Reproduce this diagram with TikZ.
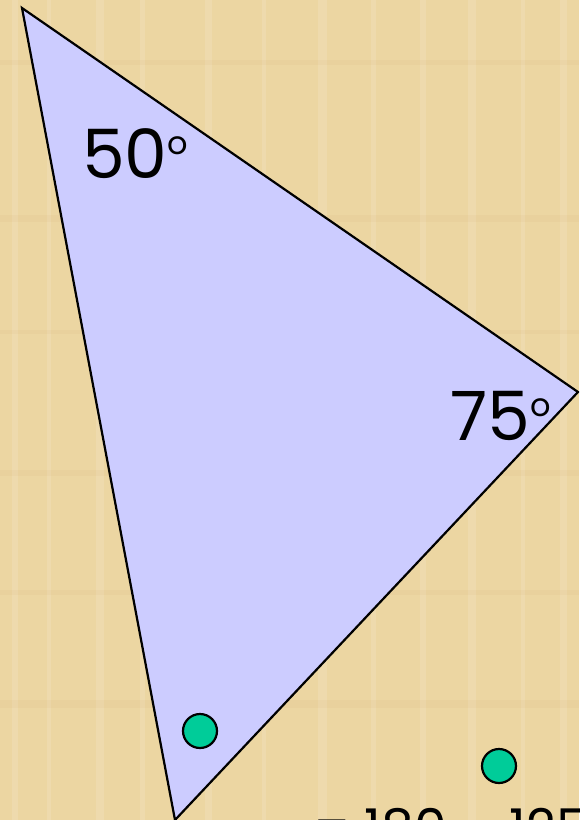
\documentclass[tikz,border=0pt]{standalone}
\usepackage{fontspec}
\setmainfont{Poppins}
\usepackage{xcolor}

\definecolor{parchment}{RGB}{236,214,162}
\definecolor{lavender}{RGB}{204,204,255}
\definecolor{dotgreen}{RGB}{0,204,153}
\newcommand{\degmark}{\raisebox{24pt}{\fontsize{32}{32}\selectfont o}}

\begin{document}
\begin{tikzpicture}[x=1pt,y=-1pt,line join=miter,
  dot/.style={circle,draw=black,line width=2.2pt,fill=dotgreen,minimum size=34pt,inner sep=0pt},
  anglabel/.style={font=\fontsize{68}{68}\selectfont,inner sep=0pt}]
\useasboundingbox (0,0) rectangle (579,820);
\clip (0,0) rectangle (579,820);
\fill[parchment] (0,0) rectangle (579,820);
% faint paper streaks
\foreach \x/\w in {12/6,47/4,96/8,140/5,205/7,262/4,318/9,371/5,420/6,468/8,521/4,560/7}
  \fill[white,opacity=0.12] (\x,0) rectangle (\x+\w,820);
\foreach \y/\h in {60/5,215/7,330/4,470/6,590/5,700/8}
  \fill[brown,opacity=0.05] (0,\y) rectangle (579,\y+\h);
% triangle
\coordinate (top) at (22,8);
\coordinate (right) at (578,392);
\coordinate (bottom) at (175,820);
\filldraw[fill=lavender,line width=2.2pt] (top) -- (right) -- (bottom) -- cycle;
% angle labels
\node[anglabel,anchor=base west] (fifty) at (82,178) {50\degmark};
\node[anglabel,anchor=base west] (seventyfive) at (450,440) {75\degmark};
% unknown angle markers
\node[dot] (dotin) at (200,731) {};
\node[dot] (dotout) at (499,766) {};
% working, cut off at the bottom
\node[anglabel,font=\fontsize{52}{52}\selectfont,anchor=base west] (sum) at (313,846) {= 180 – 125};
\end{tikzpicture}
\end{document}
